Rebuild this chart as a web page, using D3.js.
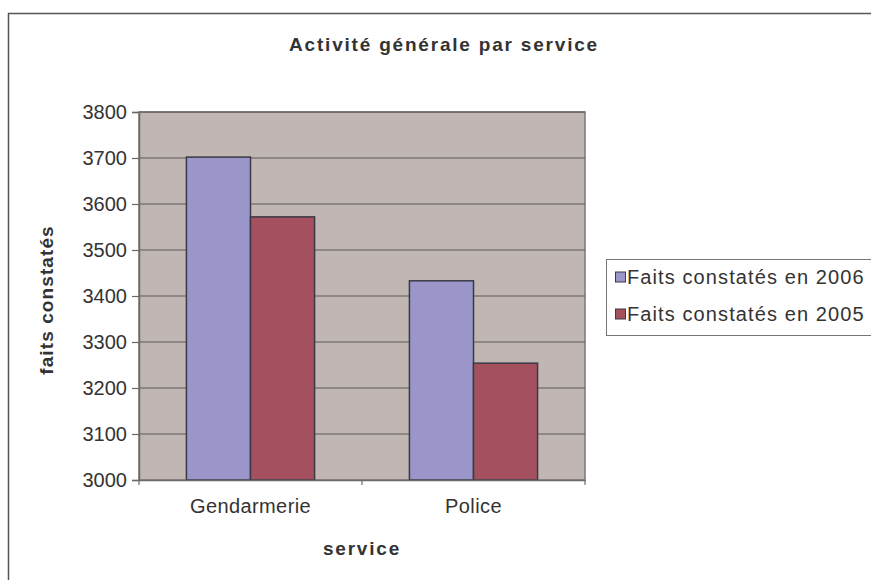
<!DOCTYPE html>
<html>
<head>
<meta charset="utf-8">
<script src="https://cdn.jsdelivr.net/npm/d3@7"></script>
<style>
  html, body { margin: 0; padding: 0; background: #fff; }
  svg { display: block; font-family: "Liberation Sans", Arial, sans-serif; }
</style>
</head>
<body>
<svg id="chart" width="871" height="580"></svg>
<script>
// Data
const services = ["Gendarmerie", "Police"];
const seriesNames = ["Faits constatés en 2006", "Faits constatés en 2005"];
const values2006 = [3702, 3433];
const values2005 = [3572, 3254];
const yTicks = [3000, 3100, 3200, 3300, 3400, 3500, 3600, 3700, 3800];
const seriesColors = ["#9b96c9", "#a5505f"];

const svg = d3.select("#chart");
const FONT = "Liberation Sans, Arial, sans-serif";

// Outer frame
svg.append("rect")
  .attr("x", 8.5).attr("y", 13.5)
  .attr("width", 900).attr("height", 600)
  .attr("fill", "#fff").attr("stroke", "#555").attr("stroke-width", 1.5);

const plot = { left: 139, right: 585, top: 112, bottom: 480 };

const y = d3.scaleLinear().domain([3000, 3800]).range([plot.bottom, plot.top]);
const x0 = d3.scaleBand().domain(services).range([plot.left, plot.right]).paddingInner(0).paddingOuter(0);
const x1 = d3.scaleBand().domain(seriesNames).range([0, x0.bandwidth()]).paddingInner(0).paddingOuter(0.74);

// Plot background
svg.append("rect")
  .attr("x", plot.left).attr("y", plot.top)
  .attr("width", plot.right - plot.left).attr("height", plot.bottom - plot.top)
  .attr("fill", "#c0b7b4").attr("stroke", "#7e7676").attr("stroke-width", 1.5);

// Gridlines
svg.append("g")
  .selectAll("line")
  .data(yTicks.filter(d => d > 3000))
  .join("line")
  .attr("x1", plot.left).attr("x2", plot.right)
  .attr("y1", d => y(d)).attr("y2", d => y(d))
  .attr("stroke", "#5e5959").attr("stroke-width", 1.2);

// Bars
const rows = services.map((s, i) => ({ service: s, vals: [values2006[i], values2005[i]] }));
svg.append("g")
  .selectAll("g")
  .data(rows)
  .join("g")
  .attr("transform", d => `translate(${x0(d.service)},0)`)
  .selectAll("rect")
  .data(d => d.vals.map((v, j) => ({ name: seriesNames[j], value: v, color: seriesColors[j] })))
  .join("rect")
  .attr("x", d => x1(d.name))
  .attr("width", x1.bandwidth())
  .attr("y", d => y(d.value))
  .attr("height", d => y(3000) - y(d.value))
  .attr("fill", d => d.color)
  .attr("stroke", "#3a3944").attr("stroke-width", 1.5);

// Y axis
const yAxis = d3.axisLeft(y).tickValues(yTicks).tickSize(7).tickPadding(5).tickFormat(d3.format("d"));
const gy = svg.append("g").attr("transform", `translate(${plot.left},0)`).call(yAxis);
gy.select(".domain").attr("stroke", "#6e6868").attr("stroke-width", 1.5);
gy.selectAll(".tick line").attr("stroke", "#6e6868").attr("stroke-width", 1.2);
gy.selectAll(".tick text").attr("fill", "#333").attr("font-size", 20).attr("font-family", FONT);

// X axis
const xAxis = d3.axisBottom(x0).tickSize(0).tickPadding(19);
const gx = svg.append("g").attr("transform", `translate(0,${plot.bottom})`).call(xAxis);
gx.select(".domain").attr("stroke", "#6e6868").attr("stroke-width", 1.5);
gx.selectAll(".tick text").attr("fill", "#333").attr("font-size", 20).attr("font-family", FONT).attr("letter-spacing", 0.4);
// Category separators
gx.append("g").selectAll("line")
  .data([plot.left, x0("Police"), plot.right])
  .join("line")
  .attr("x1", d => d).attr("x2", d => d)
  .attr("y1", 0).attr("y2", 5)
  .attr("stroke", "#6e6868").attr("stroke-width", 1.2);

// Title
svg.append("text")
  .attr("x", 444).attr("y", 51)
  .attr("text-anchor", "middle")
  .attr("font-size", 19).attr("font-weight", "bold").attr("letter-spacing", 1.8)
  .attr("fill", "#333")
  .text("Activité générale par service");

// Axis titles
svg.append("text")
  .attr("x", (plot.left + plot.right) / 2).attr("y", 555)
  .attr("text-anchor", "middle")
  .attr("font-size", 19).attr("font-weight", "bold").attr("letter-spacing", 1.8)
  .attr("fill", "#333")
  .text("service");

svg.append("text")
  .attr("transform", `translate(53,${(plot.top + plot.bottom) / 2 + 4}) rotate(-90)`)
  .attr("text-anchor", "middle")
  .attr("font-size", 19).attr("font-weight", "bold").attr("letter-spacing", 1.1)
  .attr("fill", "#333")
  .text("faits constatés");

// Legend
const legend = svg.append("g").attr("transform", "translate(606,259)");
legend.append("rect")
  .attr("x", 0.5).attr("y", 0.5).attr("width", 300).attr("height", 76)
  .attr("fill", "#fff").attr("stroke", "#777").attr("stroke-width", 1);
const items = legend.selectAll("g.item")
  .data(seriesNames)
  .join("g")
  .attr("class", "item")
  .attr("transform", (d, i) => `translate(0,${18 + i * 37})`);
items.append("rect")
  .attr("x", 9.5).attr("y", -5).attr("width", 10).attr("height", 10)
  .attr("fill", (d, i) => seriesColors[i])
  .attr("stroke", "#3a3944").attr("stroke-width", 1);
items.append("text")
  .attr("x", 21).attr("y", 7)
  .attr("font-size", 20).attr("fill", "#333").attr("letter-spacing", 1.1)
  .text(d => d);
</script>
</body>
</html>
